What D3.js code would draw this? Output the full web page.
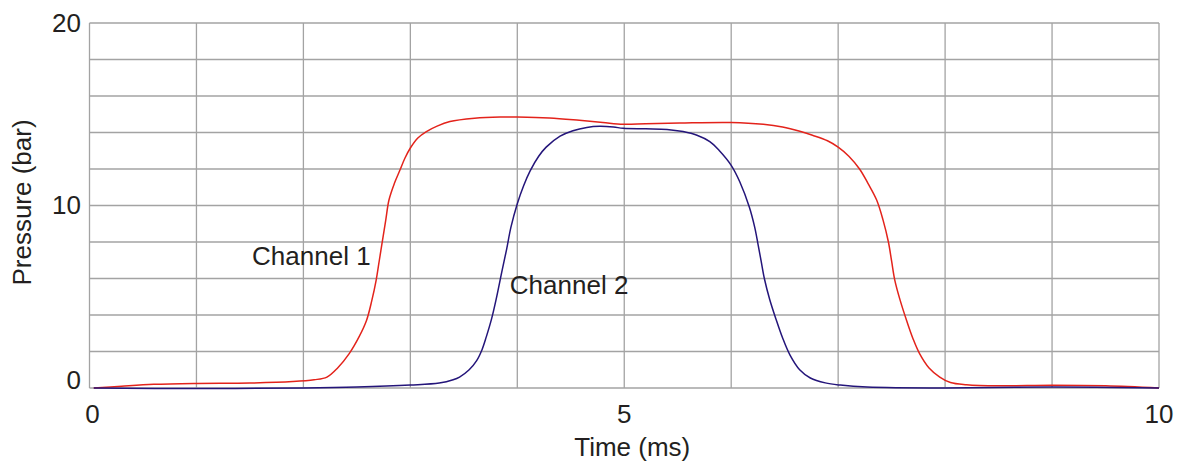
<!DOCTYPE html>
<html>
<head>
<meta charset="utf-8">
<script src="https://cdn.jsdelivr.net/npm/d3@7"></script>
<style>
  html, body { margin: 0; padding: 0; background: #fff; }
  text { font-family: "Liberation Sans", Arial, sans-serif; fill: #231f20; }
</style>
</head>
<body>
<script>
// data: time (ms) and pressure (bar)
var ch1Time = [0.04, 0.3, 0.6, 1.0, 1.5, 1.9, 2.1, 2.22, 2.32, 2.43, 2.52, 2.59, 2.64, 2.68, 2.71, 2.74, 2.77, 2.8,
    2.85, 2.9, 2.95, 3.0, 3.07, 3.15, 3.25, 3.37, 3.6, 3.84, 4.0, 4.3, 4.58, 4.8, 4.99, 5.2, 5.52, 6.0, 6.3, 6.48, 6.65,
    6.76, 6.9, 7.0, 7.1, 7.2, 7.28, 7.36, 7.42, 7.47, 7.5, 7.53, 7.58, 7.64, 7.7, 7.76, 7.85, 7.95, 8.05, 8.2, 8.5,
    9.0, 9.5, 10.0];
var ch1Pressure = [0.0, 0.1, 0.2, 0.25, 0.27, 0.35, 0.45, 0.6, 1.1, 1.9, 2.8, 3.7, 4.8, 5.9, 7.0, 8.1, 9.2, 10.3,
    11.2, 11.9, 12.6, 13.15, 13.7, 14.05, 14.35, 14.6, 14.78, 14.85, 14.85, 14.8, 14.67, 14.55, 14.45, 14.48, 14.52, 14.55,
    14.45, 14.3, 14.05, 13.85, 13.55, 13.2, 12.7, 12.0, 11.2, 10.3, 9.2, 8.0, 6.95, 5.9, 4.8, 3.7, 2.7, 1.9, 1.1, 0.6,
    0.3, 0.18, 0.12, 0.15, 0.12, 0.0];

var ch2Time = [0.04, 1.0, 2.0, 2.5, 3.0, 3.27, 3.4, 3.46, 3.55, 3.62, 3.67, 3.71, 3.76, 3.8, 3.86, 3.9, 3.94, 4.0,
    4.06, 4.12, 4.2, 4.27, 4.4, 4.52, 4.65, 4.77, 4.9, 4.99, 5.2, 5.4, 5.55, 5.68, 5.8, 5.89, 6.0, 6.08, 6.17, 6.22,
    6.25, 6.28, 6.31, 6.36, 6.42, 6.48, 6.55, 6.64, 6.74, 6.88, 7.02, 7.27, 8.0, 9.0, 10.0];
var ch2Pressure = [0.0, -0.03, 0.0, 0.05, 0.16, 0.27, 0.45, 0.6, 1.0, 1.5, 2.1, 2.8, 3.8, 4.8, 6.5, 7.6, 8.8, 10.1,
    11.1, 11.9, 12.7, 13.2, 13.8, 14.1, 14.28, 14.34, 14.3, 14.23, 14.2, 14.17, 14.05, 13.85, 13.5, 13.0, 12.2, 11.3,
    9.9, 8.8, 7.9, 6.95, 6.0, 4.85, 3.75, 2.75, 1.8, 1.0, 0.55, 0.28, 0.16, 0.05, 0.0, 0.05, 0.0];

var xTicks = [0, 5, 10];
var yTicks = [0, 10, 20];
var seriesNames = ["Channel 1", "Channel 2"];

//custom look
var gridColor = "#a3a3a3";
var colors = ["#e3231b", "#24157a"];
var fontSize = 26;

var width = 1180, height = 464;
var plotLeft = 89.5, plotRight = 1159, plotTop = 23, plotBottom = 388;

var svg = d3.select("body").append("svg")
    .attr("width", width)
    .attr("height", height);

var x = d3.scaleLinear().domain([0, 10]).range([plotLeft, plotRight]);
var y = d3.scaleLinear().domain([0, 20]).range([plotBottom, plotTop]);

// grid: every 1 ms and every 2 bar
var grid = svg.append("g").attr("stroke", gridColor).attr("stroke-width", 1.3);
grid.selectAll("line.v")
    .data(d3.range(0, 11, 1))
    .enter().append("line")
    .attr("class", "v")
    .attr("x1", function (d) { return x(d); })
    .attr("x2", function (d) { return x(d); })
    .attr("y1", y(0))
    .attr("y2", y(20));
grid.selectAll("line.h")
    .data(d3.range(0, 21, 2))
    .enter().append("line")
    .attr("class", "h")
    .attr("x1", x(0))
    .attr("x2", x(10))
    .attr("y1", function (d) { return y(d); })
    .attr("y2", function (d) { return y(d); });

// tick labels
svg.selectAll(".xlab")
    .data(xTicks)
    .enter().append("text")
    .attr("class", "xlab")
    .attr("x", function (d) { return d === 0 ? x(d) + 3 : x(d); })
    .attr("y", y(0) + 35)
    .attr("text-anchor", "middle")
    .style("font-size", fontSize + "px")
    .text(function (d) { return d; });

svg.selectAll(".ylab")
    .data(yTicks)
    .enter().append("text")
    .attr("class", "ylab")
    .attr("x", x(0) - 8.5)
    .attr("y", function (d) { return d === 0 ? y(d) + 1 : y(d) + 8.5; })
    .attr("text-anchor", "end")
    .style("font-size", fontSize + "px")
    .text(function (d) { return d; });

// axis titles
svg.append("text")
    .attr("x", (plotLeft + plotRight) / 2 + 8)
    .attr("y", 456)
    .attr("text-anchor", "middle")
    .style("font-size", fontSize + "px")
    .text("Time (ms)");

svg.append("text")
    .attr("transform", "translate(31," + ((plotTop + plotBottom) / 2 - 3) + ") rotate(-90)")
    .attr("text-anchor", "middle")
    .style("font-size", fontSize + "px")
    .text("Pressure (bar)");

// the two traces
var line = d3.line()
    .x(function (d) { return x(d[0]); })
    .y(function (d) { return y(d[1]); })
    .curve(d3.curveCatmullRom.alpha(0.5));

var series = [d3.zip(ch1Time, ch1Pressure), d3.zip(ch2Time, ch2Pressure)];

svg.selectAll(".trace")
    .data(series)
    .enter().append("path")
    .attr("class", "trace")
    .attr("d", line)
    .attr("fill", "none")
    .attr("stroke", function (d, i) { return colors[i]; })
    .attr("stroke-width", 1.5);

// inline labels for the channels
var labelAt = [[1.52, 6.75], [3.93, 5.15]];
svg.selectAll(".chlab")
    .data(seriesNames)
    .enter().append("text")
    .attr("class", "chlab")
    .attr("x", function (d, i) { return x(labelAt[i][0]); })
    .attr("y", function (d, i) { return y(labelAt[i][1]); })
    .style("font-size", fontSize + "px")
    .text(function (d) { return d; });
</script>
</body>
</html>
